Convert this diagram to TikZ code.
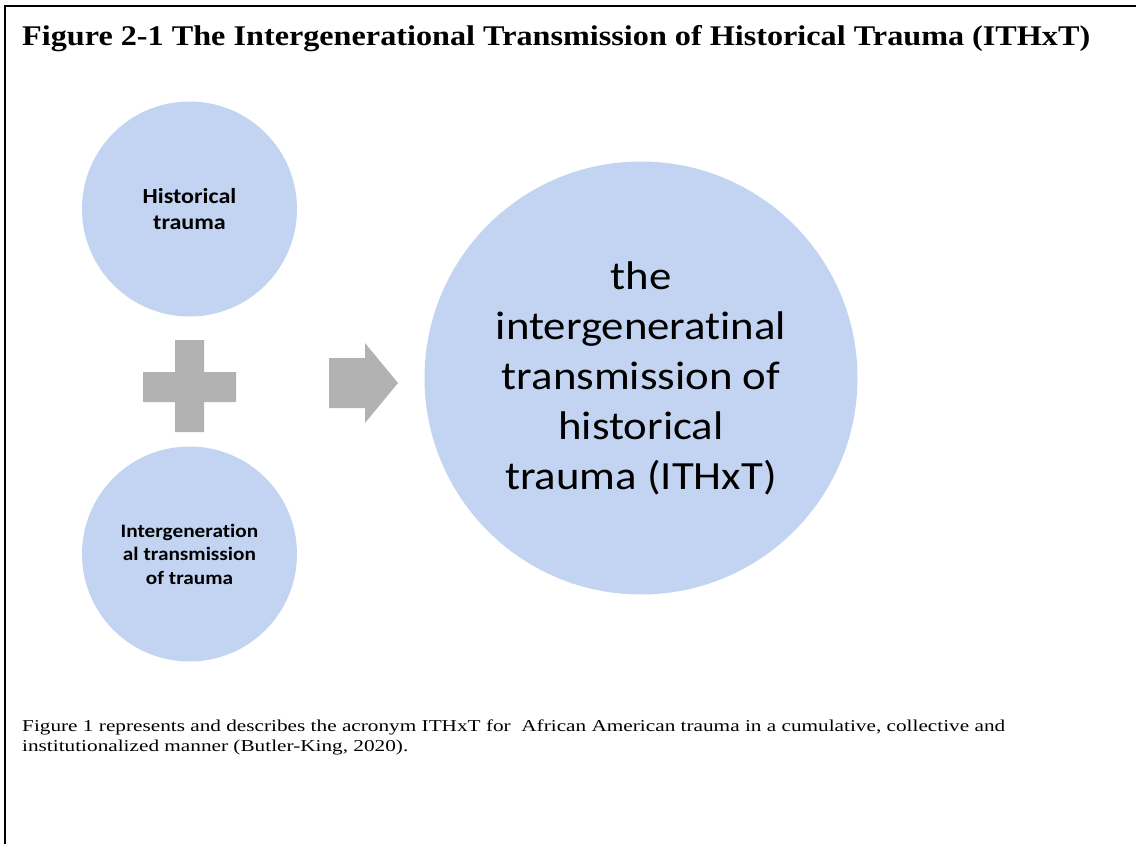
\documentclass[tikz,border=0pt]{standalone}
\usepackage{fontspec}
\setmainfont{Liberation Serif}
\newfontfamily\titlefont[FakeStretch=1.13]{Liberation Serif}
\newfontfamily\notefont[FakeStretch=1.28]{Liberation Serif}
\newfontfamily\calibri[FakeStretch=1.12,Ligatures=NoCommon]{Carlito}
\definecolor{circleblue}{HTML}{C2D4F1}
\definecolor{signgray}{HTML}{B2B2B2}

\begin{document}
\begin{tikzpicture}[x=1pt,y=-1pt,
            small-node/.style={circle,fill=circleblue,minimum size=215pt,inner sep=0pt,align=center,font=\calibri\bfseries\fontsize{21.5}{25.5}\selectfont},
            big-node/.style={circle,fill=circleblue,minimum size=433pt,inner sep=0pt,align=center,font=\calibri\fontsize{40}{50}\selectfont},
            sign/.style={fill=signgray},
        ]
            \useasboundingbox (0,0) rectangle (1136,844);
            \draw[line width=2.5pt] (5,844) -- (5,6) -- (1136,6);

            \node[anchor=base west,inner sep=0pt,font=\titlefont\bfseries\fontsize{28.5}{34}\selectfont] (title) at (22,45) {Figure 2-1 The Intergenerational Transmission of Historical Trauma (ITHxT)};

            \node[small-node] (hist) at (189.5,209) {Historical\\trauma};
            \node[small-node,font=\calibri\bfseries\fontsize{19}{23.5}\selectfont] (inter) at (189.5,554) {Intergeneration\\al transmission\\of trauma};
            \node[big-node] (ithxt) at (641,378) {the\\intergeneratinal\\transmission of\\historical\\trauma (ITHxT)};

            % plus and arrow
            \fill[sign] (175,340) -- (204,340) -- (204,372) -- (236,372) -- (236,402) -- (204,402) -- (204,432) -- (175,432) -- (175,402) -- (143,402) -- (143,372) -- (175,372) -- cycle;
            \fill[sign] (329,358) -- (365,358) -- (365,343) -- (398,383) -- (365,423) -- (365,408) -- (329,408) -- cycle;

            \node[anchor=north west,inner sep=0pt,align=left,font=\notefont\fontsize{16.6}{20}\selectfont] (caption) at (22,720) {Figure 1 represents and describes the acronym ITHxT for\ \ African American trauma in a cumulative, collective and\\institutionalized manner (Butler-King, 2020).};
        \end{tikzpicture}
\end{document}
